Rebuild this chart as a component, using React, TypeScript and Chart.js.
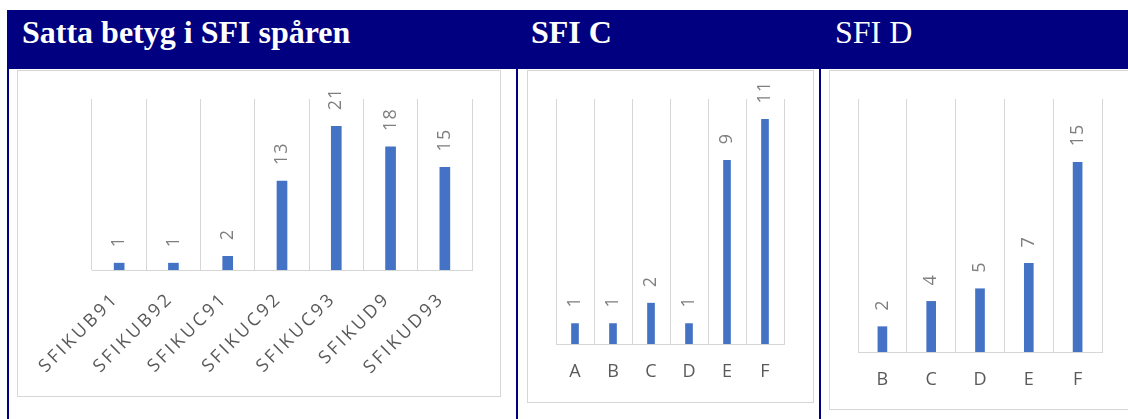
import React, { useEffect, useRef } from 'react';
import { Chart, registerables } from 'chart.js';

Chart.register(...registerables);

// ---- data ----
const sparCategories = ['SFIKUB91', 'SFIKUB92', 'SFIKUC91', 'SFIKUC92', 'SFIKUC93', 'SFIKUD9', 'SFIKUD93'];
const sparValues = [1, 1, 2, 13, 21, 18, 15];
const cCategories = ['A', 'B', 'C', 'D', 'E', 'F'];
const cValues = [1, 1, 2, 1, 9, 11];
const dCategories = ['B', 'C', 'D', 'E', 'F'];
const dValues = [2, 4, 5, 7, 15];
const titles = ['Satta betyg i SFI spåren', 'SFI C', 'SFI D'];

const NAVY = '#000080';
const GRID = '#d6d6d6';
const BAR = '#4472C4';
const FONT = '"Open Sans", "Noto Sans", sans-serif';

const valueLabels = {
  id: 'valueLabels',
  afterDatasetsDraw(chart: any) {
    const ctx = chart.ctx;
    const meta = chart.getDatasetMeta(0);
    const data = chart.data.datasets[0].data;
    ctx.save();
    ctx.font = `18px ${FONT}`;
    ctx.fillStyle = '#7f7f7f';
    ctx.textAlign = 'left';
    ctx.textBaseline = 'middle';
    try { (ctx as any).letterSpacing = '1px'; } catch (e) {}
    meta.data.forEach((bar: any, i: number) => {
      ctx.save();
      ctx.translate(bar.x, bar.y - 16);
      ctx.rotate(-Math.PI / 2);
      ctx.fillText(String(data[i]), 0, 0);
      ctx.restore();
    });
    ctx.restore();
  },
};

const spacing = {
  id: 'spacing',
  beforeDraw(chart: any, _args: any, opts: any) {
    try { chart.ctx.letterSpacing = opts.value || '0px'; } catch (e) {}
  },
  afterDraw(chart: any) {
    try { chart.ctx.letterSpacing = '0px'; } catch (e) {}
  },
};

type BarProps = {
  labels: string[];
  values: number[];
  yMax: number;
  barThickness: number;
  left: number;
  top: number;
  width: number;
  height: number;
  pad: { left: number; right: number; top: number };
  axisHeight: number;
  rotation: number;
  tickPadding: number;
  labelOffset: number;
  letterSpacing: string;
  tickSize: number;
};

function BarPanel(p: BarProps) {
  const ref = useRef<HTMLCanvasElement | null>(null);
  useEffect(() => {
    if (!ref.current) return;
    const chart = new Chart(ref.current, {
      type: 'bar',
      data: {
        labels: p.labels,
        datasets: [
          {
            data: p.values,
            backgroundColor: BAR,
            barThickness: p.barThickness,
          },
        ],
      },
      options: {
        animation: false,
        responsive: false,
        maintainAspectRatio: false,
        layout: { padding: { left: p.pad.left, right: p.pad.right, top: p.pad.top, bottom: 0 } },
        plugins: {
          legend: { display: false },
          tooltip: { enabled: false },
          title: { display: false },
          spacing: { value: p.letterSpacing },
        } as any,
        scales: {
          x: {
            offset: true,
            grid: { display: true, color: GRID, lineWidth: 1, offset: true, drawTicks: false },
            border: { display: true, color: GRID, width: 1 },
            ticks: {
              autoSkip: false,
              minRotation: p.rotation,
              maxRotation: p.rotation,
              padding: p.tickPadding,
              labelOffset: p.labelOffset,
              color: '#595959',
              font: { family: FONT, size: p.tickSize },
            },
            afterFit: (scale: any) => {
              scale.height = p.axisHeight;
            },
          },
          y: {
            display: false,
            min: 0,
            max: p.yMax,
          },
        },
      },
      plugins: [valueLabels, spacing],
    });
    return () => chart.destroy();
  }, []);
  return (
    <canvas
      ref={ref}
      width={p.width}
      height={p.height}
      style={{ position: 'absolute', left: p.left, top: p.top, width: p.width, height: p.height }}
    />
  );
}

function Box({ left, top, width, height }: { left: number; top: number; width: number; height: number }) {
  return (
    <div
      style={{
        position: 'absolute',
        left,
        top,
        width,
        height,
        border: `1px solid ${GRID}`,
        boxSizing: 'border-box',
        background: '#fff',
      }}
    />
  );
}

function VLine({ left, width }: { left: number; width: number }) {
  return <div style={{ position: 'absolute', left, top: 69, width, height: 360, background: NAVY }} />;
}

export default function App() {
  const titleStyle: React.CSSProperties = {
    position: 'absolute',
    top: 12,
    color: '#fff',
    fontFamily: '"Liberation Serif", "Times New Roman", serif',
    fontSize: 32,
    lineHeight: '40px',
    whiteSpace: 'nowrap',
  };
  return (
    <div style={{ position: 'absolute', left: 0, top: 0, width: 1128, height: 419, overflow: 'hidden', background: '#fff' }}>
      <div style={{ position: 'absolute', left: 7, top: 10, width: 1130, height: 59, background: NAVY }} />
      <div style={{ ...titleStyle, left: 22, fontWeight: 'bold' }}>{titles[0]}</div>
      <div style={{ ...titleStyle, left: 531, fontWeight: 'bold' }}>{titles[1]}</div>
      <div style={{ ...titleStyle, left: 835, fontWeight: 'normal' }}>{titles[2]}</div>

      <VLine left={7} width={2} />
      <VLine left={516} width={2} />
      <VLine left={819} width={2} />

      <Box left={17} top={70} width={484} height={327} />
      <Box left={527} top={70} width={287} height={333} />
      <Box left={829} top={70} width={320} height={340} />

      <BarPanel
        labels={sparCategories}
        values={sparValues}
        yMax={25}
        barThickness={10}
        left={18}
        top={71}
        width={481}
        height={325}
        pad={{ left: 74, right: 27, top: 28 }}
        axisHeight={126}
        rotation={45}
        tickPadding={18}
        labelOffset={-3}
        letterSpacing="3px"
        tickSize={18}
      />
      <BarPanel
        labels={cCategories}
        values={cValues}
        yMax={12}
        barThickness={7}
        left={528}
        top={71}
        width={284}
        height={330}
        pad={{ left: 28, right: 28, top: 28 }}
        axisHeight={57}
        rotation={0}
        tickPadding={17}
        labelOffset={0}
        letterSpacing="0px"
        tickSize={18}
      />
      <BarPanel
        labels={dCategories}
        values={dValues}
        yMax={20}
        barThickness={9}
        left={830}
        top={71}
        width={298}
        height={337}
        pad={{ left: 28, right: 26, top: 28 }}
        axisHeight={56}
        rotation={0}
        tickPadding={17}
        labelOffset={0}
        letterSpacing="0px"
        tickSize={18}
      />
    </div>
  );
}
